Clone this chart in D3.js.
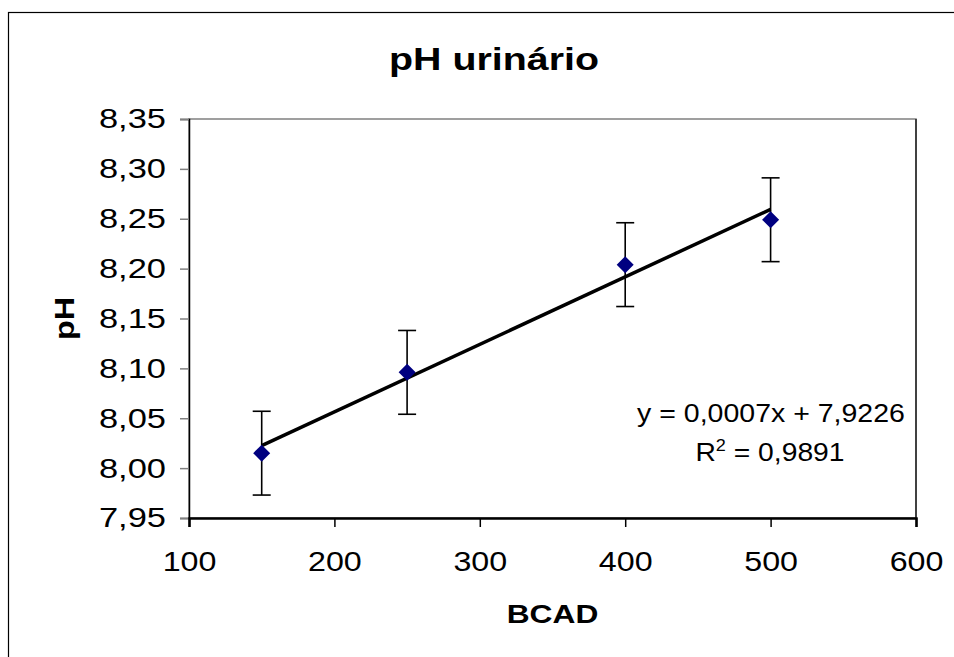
<!DOCTYPE html>
<html>
<head>
<meta charset="utf-8">
<script src="https://cdn.jsdelivr.net/npm/d3@7"></script>
<style>
  html, body { margin: 0; padding: 0; background: #fff; }
  svg { display: block; font-family: "Liberation Sans", Arial, sans-serif; }
</style>
</head>
<body>
<svg id="chart" width="954" height="657"></svg>
<script>
// ---- data ----
const bcad = [150, 250, 400, 500];
const ph = [8.015, 8.096, 8.204, 8.249];
const phError = [0.042, 0.042, 0.042, 0.042];
const xTicks = [100, 200, 300, 400, 500, 600];
const yTicks = [7.95, 8.00, 8.05, 8.10, 8.15, 8.20, 8.25, 8.30, 8.35];
const titleText = "pH urinário";
const xLabel = "BCAD";
const yLabel = "pH";
const eqText = "y = 0,0007x + 7,9226";
const r2Value = "0,9891";

// ---- layout ----
const W = 954, H = 657;
const plot = { left: 189, right: 916, top: 119, bottom: 518 };

const svg = d3.select("#chart");
svg.append("rect").attr("width", W).attr("height", H).attr("fill", "#fff");

// stretch text horizontally (reference font renders wider than Arial metrics)
function stretch(sel, k) {
  sel.each(function () {
    const len = this.getComputedTextLength();
    d3.select(this).attr("textLength", len * k).attr("lengthAdjust", "spacingAndGlyphs");
  });
}

// outer chart border (extends past right/bottom edges)
svg.append("rect")
  .attr("x", 8.5).attr("y", 12.5)
  .attr("width", 960).attr("height", 700)
  .attr("fill", "none").attr("stroke", "#000").attr("stroke-width", 1.2);

const x = d3.scaleLinear().domain([100, 600]).range([plot.left, plot.right]);
const y = d3.scaleLinear().domain([7.95, 8.35]).range([plot.bottom, plot.top]);

// plot area border
svg.append("rect")
  .attr("x", plot.left).attr("y", plot.top)
  .attr("width", plot.right - plot.left).attr("height", plot.bottom - plot.top)
  .attr("fill", "none").attr("stroke", "#808080").attr("stroke-width", 1.5);
svg.append("line")
  .attr("x1", plot.right).attr("x2", plot.right)
  .attr("y1", plot.top).attr("y2", plot.bottom)
  .attr("stroke", "#222").attr("stroke-width", 1.5);

const fmt = d3.format(".2f");
const comma = s => s.replace(".", ",");

// y axis
const yAxis = d3.axisLeft(y).tickValues(yTicks).tickSize(9).tickPadding(14)
  .tickFormat(d => comma(fmt(d)));
const gy = svg.append("g").attr("transform", `translate(${plot.left},0)`).call(yAxis);
gy.select(".domain").attr("stroke", "#000").attr("stroke-width", 1.5);
gy.selectAll(".tick line").attr("stroke", "#808080").attr("stroke-width", 1.5);
gy.selectAll(".tick text").attr("font-size", 28).attr("fill", "#000")
  .attr("font-family", "Liberation Sans, Arial, sans-serif");
stretch(gy.selectAll(".tick text"), 1.23);

// x axis
const xAxis = d3.axisBottom(x).tickValues(xTicks).tickSize(9).tickPadding(24)
  .tickFormat(d3.format("d"));
const gx = svg.append("g").attr("transform", `translate(0,${plot.bottom})`).call(xAxis);
gx.select(".domain").attr("stroke", "#000").attr("stroke-width", 2.5);
gx.selectAll(".tick line").attr("stroke", "#000").attr("stroke-width", 1.5);
gx.selectAll(".tick text").attr("font-size", 28).attr("fill", "#000")
  .attr("font-family", "Liberation Sans, Arial, sans-serif");
stretch(gx.selectAll(".tick text"), 1.15);

// trendline from least squares fit
const mx = d3.mean(bcad), my = d3.mean(ph);
const sxy = d3.sum(bcad, (v, i) => (v - mx) * (ph[i] - my));
const sxx = d3.sum(bcad, v => (v - mx) * (v - mx));
const slope = sxy / sxx, intercept = my - slope * mx;
const xMin = d3.min(bcad), xMax = d3.max(bcad);
svg.append("line")
  .attr("x1", x(xMin)).attr("y1", y(intercept + slope * xMin))
  .attr("x2", x(xMax)).attr("y2", y(intercept + slope * xMax))
  .attr("stroke", "#000").attr("stroke-width", 3.5);

// error bars
const capHalf = 9;
const eb = svg.append("g").attr("stroke", "#000").attr("stroke-width", 1.6);
bcad.forEach((v, i) => {
  const cx = x(v), yt = y(ph[i] + phError[i]), yb = y(ph[i] - phError[i]);
  eb.append("line").attr("x1", cx).attr("x2", cx).attr("y1", yt).attr("y2", yb);
  eb.append("line").attr("x1", cx - capHalf).attr("x2", cx + capHalf).attr("y1", yt).attr("y2", yt);
  eb.append("line").attr("x1", cx - capHalf).attr("x2", cx + capHalf).attr("y1", yb).attr("y2", yb);
});

// diamond markers
const mk = 8.5;
svg.append("g").selectAll("path").data(bcad).join("path")
  .attr("d", (v, i) => {
    const cx = x(v), cy = y(ph[i]);
    return `M${cx},${cy - mk}L${cx + mk},${cy}L${cx},${cy + mk}L${cx - mk},${cy}Z`;
  })
  .attr("fill", "#000080");

// title
const title = svg.append("text").attr("x", 494).attr("y", 70)
  .attr("text-anchor", "middle").attr("font-size", 31).attr("font-weight", "bold")
  .text(titleText);
stretch(title, 1.27);

// axis titles
const xl = svg.append("text").attr("x", (plot.left + plot.right) / 2).attr("y", 623)
  .attr("text-anchor", "middle").attr("font-size", 26).attr("font-weight", "bold")
  .text(xLabel);
stretch(xl, 1.22);
const yl = svg.append("text")
  .attr("transform", `translate(74,${(plot.top + plot.bottom) / 2}) rotate(-90)`)
  .attr("text-anchor", "middle").attr("font-size", 27).attr("font-weight", "bold")
  .text(yLabel);
stretch(yl, 1.2);

// equation
const eq = svg.append("text").attr("x", 771).attr("y", 422)
  .attr("text-anchor", "middle").attr("font-size", 25)
  .text(eqText);
stretch(eq, 1.14);
const r2 = svg.append("text").attr("x", 770).attr("y", 461)
  .attr("text-anchor", "middle").attr("font-size", 25);
r2.append("tspan").text("R");
r2.append("tspan").attr("font-size", 16).attr("dy", -10).text("2");
r2.append("tspan").attr("dy", 10).text(" = " + r2Value);
stretch(r2, 1.13);
</script>
</body>
</html>
